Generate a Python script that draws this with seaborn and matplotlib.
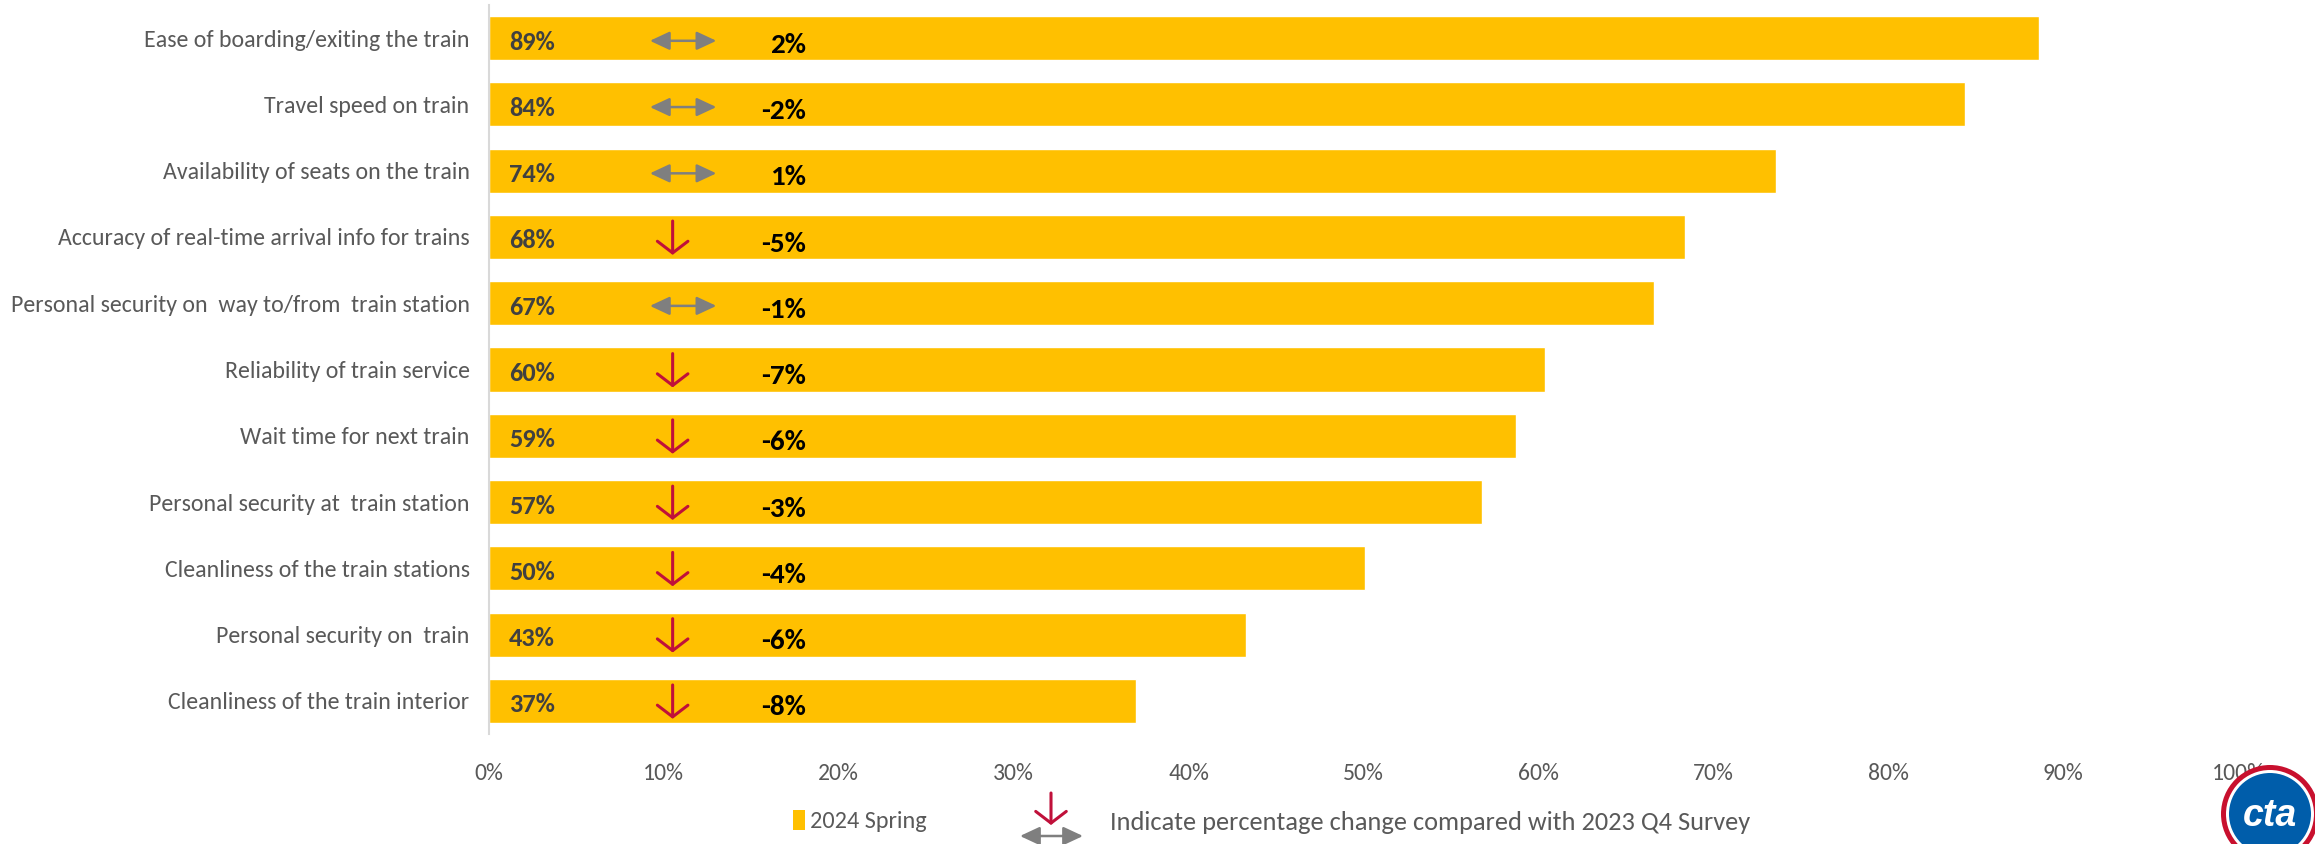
import matplotlib
matplotlib.use("Agg")
import matplotlib.pyplot as plt
from matplotlib import font_manager
from matplotlib.patches import Patch, Circle, FancyArrowPatch
from matplotlib.transforms import IdentityTransform
import seaborn as sns
import pandas as pd

# Survey attributes and satisfaction share (2024 Spring)
categories = [
    "Ease of boarding/exiting the train",
    "Travel speed on train",
    "Availability of seats on the train",
    "Accuracy of real-time arrival info for trains",
    "Personal security on  way to/from  train station",
    "Reliability of train service",
    "Wait time for next train",
    "Personal security at  train station",
    "Cleanliness of the train stations",
    "Personal security on  train",
    "Cleanliness of the train interior",
]
satisfaction = [88.6, 84.4, 73.6, 68.4, 66.6, 60.4, 58.7, 56.8, 50.1, 43.3, 37.0]
# Change in points versus the 2023 Q4 survey
change = [2, -2, 1, -5, -1, -7, -6, -3, -4, -6, -8]
trend = ["flat", "flat", "flat", "down", "flat", "down", "down", "down", "down", "down", "down"]
x_ticks = [0, 10, 20, 30, 40, 50, 60, 70, 80, 90, 100]
series_name = "2024 Spring"
note = "Indicate percentage change compared with 2023 Q4 Survey"

GOLD = "#FFC000"
CRIMSON = "#C0103A"
ARROW_GRAY = "#7F7F7F"
LABEL_GRAY = "#595959"
DARK = "#404040"

sns.set_theme(style="white")
installed = {f.name for f in font_manager.fontManager.ttflist}
family = next((f for f in ["Carlito", "Lato", "Open Sans", "DejaVu Sans"] if f in installed), "DejaVu Sans")
plt.rcParams["font.family"] = [family, "DejaVu Sans"]

df = pd.DataFrame({"category": categories, "value": satisfaction})

W, H = 2315, 844
fig = plt.figure(figsize=(W / 100, H / 100), dpi=100)
ax = fig.add_axes([489 / W, 1 - 734 / H, (2238 - 489) / W, 729 / H])

sns.barplot(data=df, x="value", y="category", orient="h", color=GOLD,
            saturation=1, width=0.664, ax=ax)

ax.set_xlim(0, 100)
ax.set_ylim(len(categories) - 0.5, -0.5)
ax.set_xticks(x_ticks)
ax.set_xticklabels([f"{t}%" for t in x_ticks])
ax.set_xlabel("")
ax.set_ylabel("")
ax.tick_params(axis="x", length=0, pad=21, labelsize=17, labelcolor=LABEL_GRAY)
ax.tick_params(axis="y", length=0, pad=14, labelsize=17.2, labelcolor=LABEL_GRAY)
ax.grid(False)
for side in ["top", "right", "bottom"]:
    ax.spines[side].set_visible(False)
ax.spines["left"].set_color("#D9D9D9")
ax.spines["left"].set_linewidth(1.5)

for i, (v, c, t) in enumerate(zip(satisfaction, change, trend)):
    ax.text(1.15, i + 0.06, f"{v:.0f}%", ha="left", va="center", fontsize=19,
            fontweight="bold", color=DARK)
    ax.text(18.1, i + 0.1, f"{c}%", ha="right", va="center", fontsize=21,
            fontweight="bold", color="black")
    if t == "down":
        ax.annotate("", xy=(10.5, i + 0.27), xytext=(10.5, i - 0.24),
                    arrowprops=dict(arrowstyle="->,head_length=0.42,head_width=0.55",
                                    color=CRIMSON, lw=2.2, mutation_scale=20,
                                    shrinkA=0, shrinkB=0))
    else:
        ax.annotate("", xy=(13.0, i + 0.04), xytext=(9.2, i + 0.04),
                    arrowprops=dict(arrowstyle="<|-|>,head_length=0.6,head_width=0.28",
                                    color=ARROW_GRAY, lw=1.8, mutation_scale=20,
                                    shrinkA=0, shrinkB=0))

# Legend row below the axis
fig.legend(handles=[Patch(facecolor=GOLD, edgecolor="none", label=series_name)],
           loc="center left", bbox_to_anchor=(781 / W, 1 - 821 / H),
           frameon=False, fontsize=17.5, labelcolor=LABEL_GRAY,
           handlelength=0.5, handleheight=0.9, handletextpad=0.2, borderpad=0)
fig.patches.append(FancyArrowPatch(
    (1051 / W, 1 - 793 / H), (1051 / W, 1 - 825 / H),
    transform=fig.transFigure, arrowstyle="->,head_length=0.42,head_width=0.55",
    color=CRIMSON, lw=2.2, mutation_scale=20, shrinkA=0, shrinkB=0))
fig.patches.append(FancyArrowPatch(
    (1020 / W, 1 - 836 / H), (1083 / W, 1 - 836 / H),
    transform=fig.transFigure, arrowstyle="<|-|>,head_length=0.6,head_width=0.28",
    color=ARROW_GRAY, lw=1.8, mutation_scale=20, shrinkA=0, shrinkB=0))
fig.text(1110 / W, 1 - 822 / H, note, ha="left", va="center",
         fontsize=19, color=LABEL_GRAY)

# Agency badge in the lower right corner
cx, cy = 2270, 814
for r, col in [(49, "#C8102E"), (44, "white"), (41, "#005DAA")]:
    fig.patches.append(Circle((cx, H - cy), r, transform=IdentityTransform(),
                              facecolor=col, edgecolor="none"))
fig.text(cx / W, 1 - (cy + 2) / H, "cta", ha="center", va="center",
         fontsize=27, fontweight="bold", fontstyle="italic", color="white",
         family=["Liberation Sans", "DejaVu Sans"])

fig.savefig("out.png", dpi=100, facecolor="white")
